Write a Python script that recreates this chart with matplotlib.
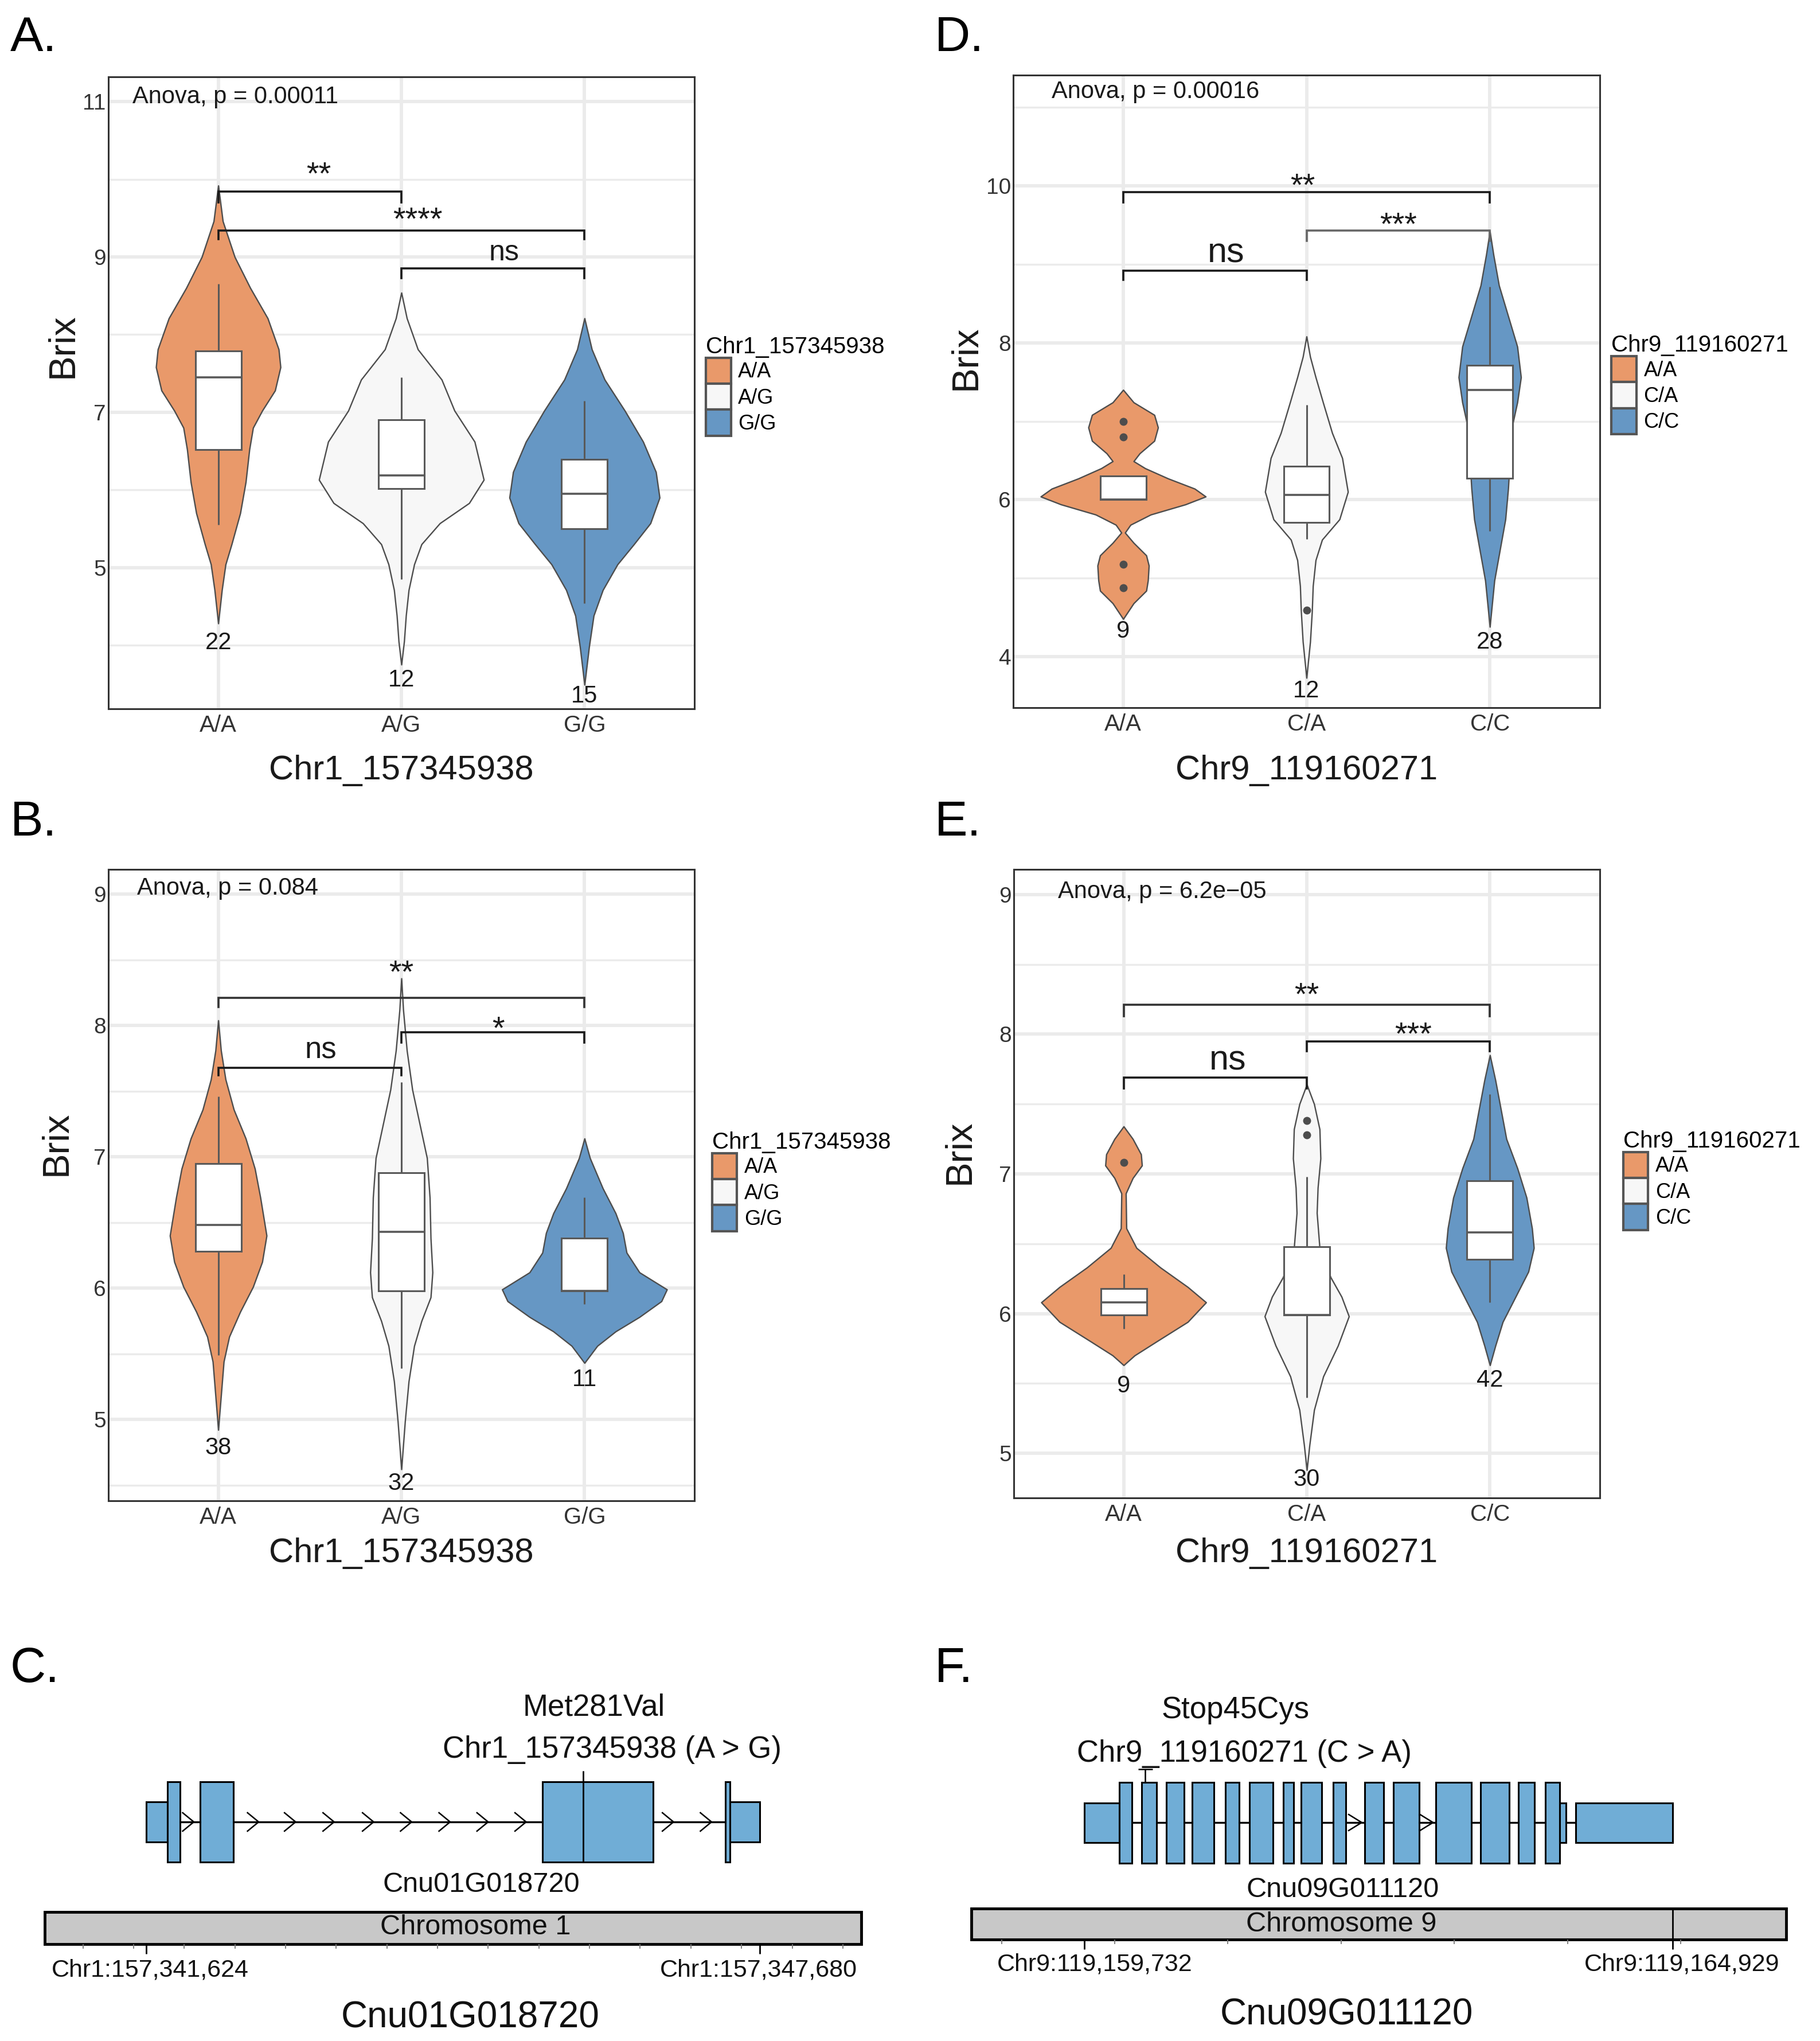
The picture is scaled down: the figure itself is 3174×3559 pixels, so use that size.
import numpy as np
import matplotlib
matplotlib.use('Agg')
import matplotlib.pyplot as plt
from matplotlib.patches import Patch

plt.rcParams['font.family'] = ['Liberation Sans', 'DejaVu Sans']

W, H = 3174, 3559
FILLS = ['#E9996A', '#F7F7F7', '#6697C4']

# ---------------- panel A : Chr1 SNP, set 1
a_cats = ['A/A', 'A/G', 'G/G']
a_n = [22, 12, 15]
a_n_y = [4.03, 3.55, 3.34]
a_lo = [5.55, 4.85, 4.54]
a_q1 = [6.52, 6.02, 5.50]
a_med = [7.45, 6.19, 5.95]
a_q3 = [7.79, 6.90, 6.39]
a_hi = [8.65, 7.45, 7.15]
a_out = [[], [], []]
a_vy = [[9.92, 9.46, 9.0, 8.6, 8.21, 7.81, 7.58, 7.28, 7.02, 6.8, 6.52, 6.1, 5.7, 5.3, 5.04, 4.71, 4.28],
        [8.54, 8.21, 7.81, 7.42, 7.02, 6.62, 6.13, 5.83, 5.57, 5.30, 5.04, 4.71, 4.38, 4.05, 3.75],
        [8.21, 7.81, 7.42, 7.02, 6.62, 6.23, 5.90, 5.57, 5.30, 5.04, 4.71, 4.38, 3.98, 3.49]]
a_vw = [[0, 0.025, 0.09, 0.175, 0.27, 0.33, 0.34, 0.31, 0.24, 0.19, 0.17, 0.15, 0.12, 0.073, 0.04, 0.02, 0],
        [0, 0.03, 0.09, 0.22, 0.29, 0.40, 0.45, 0.37, 0.21, 0.11, 0.07, 0.04, 0.025, 0.015, 0],
        [0, 0.04, 0.11, 0.22, 0.32, 0.39, 0.41, 0.36, 0.27, 0.18, 0.10, 0.05, 0.025, 0]]
# (x1, x2, bar y, tip drop, label, label y, label x shift)
a_sig = [(1, 2, 9.84, 0.14, '**', 10.17, 0.05), (1, 3, 9.34, 0.11, '****', 9.59, 0.09),
         (2, 3, 8.85, 0.12, 'ns', 9.05, 0.06)]
a_anova = 'Anova, p = 0.00011'

# ---------------- panel B : Chr1 SNP, set 2
b_cats = ['A/A', 'A/G', 'G/G']
b_n = [38, 32, 11]
b_n_y = [4.78, 4.51, 5.30]
b_lo = [5.49, 5.39, 5.88]
b_q1 = [6.28, 5.98, 5.98]
b_med = [6.48, 6.43, 5.98]
b_q3 = [6.95, 6.88, 6.38]
b_hi = [7.46, 7.57, 6.69]
b_out = [[], [], []]
b_vy = [[8.04, 7.81, 7.59, 7.36, 7.14, 6.91, 6.69, 6.40, 6.20, 6.01, 5.82, 5.63, 5.44, 5.18, 4.92],
        [8.36, 8.12, 7.81, 7.51, 7.25, 6.99, 6.69, 6.38, 6.12, 5.93, 5.75, 5.56, 5.29, 4.99, 4.62],
        [7.14, 6.99, 6.76, 6.57, 6.42, 6.27, 6.12, 5.99, 5.90, 5.78, 5.67, 5.56, 5.43]]
b_vw = [[0, 0.015, 0.04, 0.085, 0.15, 0.2, 0.23, 0.264, 0.24, 0.19, 0.12, 0.06, 0.03, 0.015, 0],
        [0, 0.01, 0.03, 0.06, 0.10, 0.14, 0.155, 0.16, 0.17, 0.16, 0.11, 0.07, 0.04, 0.02, 0],
        [0, 0.03, 0.10, 0.17, 0.21, 0.23, 0.30, 0.45, 0.42, 0.30, 0.17, 0.07, 0]]
b_sig = [(1, 2, 7.68, 0.06, 'ns', 7.81, 0.06), (1, 3, 8.21, 0.07, '**', 8.47, 0.0),
         (2, 3, 7.95, 0.08, '*', 8.04, 0.03)]
b_anova = 'Anova, p = 0.084'

# ---------------- panel D : Chr9 SNP, set 1
d_cats = ['A/A', 'C/A', 'C/C']
d_n = [9, 12, 28]
d_n_y = [4.32, 3.56, 4.18]
d_lo = [6.0, 5.50, 5.60]
d_q1 = [6.0, 5.71, 6.27]
d_med = [6.0, 6.06, 7.40]
d_q3 = [6.30, 6.43, 7.71]
d_hi = [6.30, 7.21, 8.71]
d_out = [[7.0, 6.80, 5.18, 4.88], [4.59], []]
d_vy = [[7.40, 7.24, 7.08, 6.92, 6.75, 6.59, 6.49, 6.40, 6.27, 6.14, 6.04, 5.94, 5.81, 5.68, 5.58,
         5.45, 5.29, 5.16, 4.97, 4.84, 4.68, 4.48],
        [8.08, 7.82, 7.56, 7.24, 6.85, 6.53, 6.10, 5.75, 5.49, 5.23, 4.90, 4.58, 4.19, 3.73],
        [9.42, 9.12, 8.73, 8.34, 7.95, 7.56, 7.24, 6.92, 6.53, 6.14, 5.75, 5.36, 4.97, 4.38]]
d_vw = [[0, 0.057, 0.17, 0.19, 0.17, 0.09, 0.057, 0.12, 0.245, 0.39, 0.45, 0.34, 0.15, 0.04, 0.01,
         0.057, 0.126, 0.14, 0.135, 0.126, 0.057, 0],
        [0, 0.02, 0.05, 0.09, 0.14, 0.195, 0.226, 0.18, 0.085, 0.05, 0.035, 0.03, 0.02, 0],
        [0, 0.02, 0.05, 0.10, 0.15, 0.17, 0.15, 0.12, 0.11, 0.10, 0.085, 0.055, 0.025, 0]]
d_sig = [(1, 2, 8.92, 0.12, 'ns', 9.14, 0.06), (1, 3, 9.92, 0.13, '**', 10.11, -0.02),
         (2, 3, 9.43, 0.13, '***', 9.61, 0.0)]
d_anova = 'Anova, p = 0.00016'

# ---------------- panel E : Chr9 SNP, set 2
e_cats = ['A/A', 'C/A', 'C/C']
e_n = [9, 30, 42]
e_n_y = [5.48, 4.81, 5.52]
e_lo = [5.89, 5.40, 6.08]
e_q1 = [5.99, 5.99, 6.39]
e_med = [6.08, 5.99, 6.58]
e_q3 = [6.18, 6.48, 6.95]
e_hi = [6.28, 6.98, 7.57]
e_out = [[7.08], [7.38, 7.28], []]
e_vy = [[7.34, 7.25, 7.14, 7.06, 6.97, 6.86, 6.61, 6.47, 6.33, 6.19, 6.08, 5.94, 5.80, 5.70, 5.63],
        [7.64, 7.50, 7.32, 7.11, 6.90, 6.72, 6.47, 6.26, 6.12, 5.98, 5.77, 5.55, 5.31, 5.06, 4.88],
        [7.85, 7.67, 7.46, 7.25, 7.04, 6.83, 6.61, 6.47, 6.30, 6.12, 5.94, 5.77, 5.63]]
e_vw = [[0, 0.05, 0.095, 0.10, 0.05, 0.012, 0.015, 0.07, 0.2, 0.35, 0.45, 0.35, 0.18, 0.06, 0],
        [0, 0.04, 0.07, 0.075, 0.06, 0.055, 0.07, 0.13, 0.19, 0.23, 0.17, 0.09, 0.04, 0.015, 0],
        [0, 0.03, 0.06, 0.09, 0.15, 0.20, 0.23, 0.24, 0.21, 0.14, 0.07, 0.03, 0]]
e_sig = [(1, 2, 7.69, 0.08, 'ns', 7.81, 0.07), (1, 3, 8.21, 0.08, '**', 8.34, 0.0),
         (2, 3, 7.95, 0.07, '***', 8.06, 0.08)]
e_anova = 'Anova, p = 6.2e\u221205'

# ---------------- gene models
c_gene = (157341624, 157347680)
c_snp = 157345938
c_exons = [(157341624, 157341835, 'utr'), (157341835, 157341957, 'cds'), (157342155, 157342486, 'cds'),
           (157345534, 157346625, 'cds'), (157347339, 157347386, 'cds'), (157347386, 157347680, 'utr')]
c_arrows = [157342094, 157342734, 157343099, 157343479, 157343869, 157344244, 157344624,
            157344999, 157345374, 157346829, 157347204]
c_ticks = np.arange(157341000, 157348700, 500)

f_gene = (119159732, 119164929)
f_snp = 119160271
f_exons = [(0, 307, 'utr'), (307, 419, 'cds'), (506, 639, 'cds'), (726, 879, 'cds'), (950, 1145, 'cds'),
           (1247, 1369, 'cds'), (1456, 1666, 'cds'), (1758, 1850, 'cds'), (1916, 2095, 'cds'),
           (2197, 2310, 'cds'), (2478, 2642, 'cds'), (2729, 2959, 'cds'), (3102, 3419, 'cds'),
           (3500, 3751, 'cds'), (3833, 3976, 'cds'), (4073, 4200, 'cds'), (4200, 4252, 'utr'),
           (4338, 5197, 'utr')]
f_arrows = [2450, 3080]
f_ticks = np.arange(119159000, 119166000, 1000)

fig = plt.figure(figsize=(W / 100, H / 100), dpi=100)


def fx(px):
    return px / W


def fy(py):
    return 1 - py / H


def violin_panel(rect, cats, n, n_y, lo, q1, med, q3, hi, vy, vw, outl, sig, anova, anova_xy,
                 ylim, major, minor, xtitle, xlab_y, ylab_xy, ns_size, leg_anchor, sig_cols):
    ax = fig.add_axes(rect)
    xs = np.arange(1, len(cats) + 1)
    for i, x in enumerate(xs):
        y = np.array(vy[i])
        w = np.array(vw[i])
        ax.fill_betweenx(y, x - w, x + w, facecolor=FILLS[i], edgecolor='#4D4D4D',
                         linewidth=1.7, zorder=2)
    # boxplots
    ax.vlines(xs, q3, hi, color='#595959', lw=2.2, zorder=3)
    ax.vlines(xs, lo, q1, color='#595959', lw=2.2, zorder=3)
    ax.bar(xs, np.array(q3) - np.array(q1), bottom=q1, width=0.25, color='white',
           edgecolor='#595959', linewidth=2.2, zorder=3)
    ax.hlines(med, xs - 0.125, xs + 0.125, color='#595959', lw=2.6, zorder=4)
    for i, x in enumerate(xs):
        if outl[i]:
            ax.plot([x] * len(outl[i]), outl[i], 'o', color='#4D4D4D', ms=9, zorder=5)
    # counts
    for x, c, cy in zip(xs, n, n_y):
        ax.text(x, cy, str(c), ha='center', va='center', fontsize=30, color='#1a1a1a')
    # significance brackets
    for (x1, x2, yb, tip, lab, ty, dx), col in zip(sig, sig_cols):
        ax.plot([x1, x1, x2, x2], [yb - tip, yb, yb, yb - tip], color=col, lw=2.6,
                solid_joinstyle='miter', zorder=6)
        if lab == 'ns':
            ax.text((x1 + x2) / 2 + dx, ty, lab, ha='center', va='center', fontsize=ns_size,
                    color='#1a1a1a')
        else:
            ax.annotate(lab, ((x1 + x2) / 2 + dx, ty), xytext=(0, -0.31 * 40),
                        textcoords='offset points', ha='center', va='center', fontsize=40,
                        color='#1a1a1a')
    ax.text(anova_xy[0], anova_xy[1], anova, ha='left', va='center', fontsize=30, color='#1a1a1a')

    ax.set_xlim(0.4, 3.6)
    ax.set_ylim(ylim)
    ax.set_xticks(xs)
    ax.set_xticklabels(cats)
    ax.set_yticks(major)
    ax.set_yticks(minor, minor=True)
    ax.set_axisbelow(True)
    ax.grid(which='major', color='#EBEBEB', lw=4.2)
    ax.yaxis.grid(True, which='minor', color='#EBEBEB', lw=2.4)
    ax.tick_params(which='both', length=0)
    ax.tick_params(axis='x', labelsize=29, pad=7, labelcolor='#333333')
    ax.tick_params(axis='y', labelsize=28, pad=3, labelcolor='#333333')
    for s in ax.spines.values():
        s.set_color('#333333')
        s.set_linewidth(2.2)
    ax.set_xlabel(xtitle, fontsize=43, va='center', color='#1a1a1a')
    ax.xaxis.set_label_coords(0.5, xlab_y)
    ax.set_ylabel('Brix', fontsize=47, va='center', color='#1a1a1a')
    ax.yaxis.set_label_coords(*ylab_xy)

    handles = [Patch(facecolor=FILLS[i], edgecolor='#555555', linewidth=3) for i in range(len(cats))]
    leg = ax.legend(handles, cats, title=xtitle, loc='upper left', bbox_to_anchor=leg_anchor,
                    frameon=False, fontsize=26, title_fontsize=29, handlelength=1.2,
                    handleheight=1.55, labelspacing=0.0, handletextpad=0.35, borderpad=0,
                    borderaxespad=0)
    leg._legend_box.align = 'left'
    return ax


dark = '#1a1a1a'
violin_panel([fx(189), fy(1236), fx(1022), 1102 / H], a_cats, a_n, a_n_y, a_lo, a_q1, a_med, a_q3,
             a_hi, a_vy, a_vw, a_out, a_sig, a_anova, (0.53, 11.06), (3.18, 11.32), [5, 7, 9, 11],
             [4, 6, 8, 10], 'Chr1_157345938', -0.098, (-0.078, 0.575), 36, (1.02, 0.59),
             [dark, dark, dark])
violin_panel([fx(1767), fy(1234), fx(1023), 1103 / H], d_cats, d_n, d_n_y, d_lo, d_q1, d_med, d_q3,
             d_hi, d_vy, d_vw, d_out, d_sig, d_anova, (0.61, 11.2), (3.35, 11.41), [4, 6, 8, 10],
             [5, 7, 9, 11], 'Chr9_119160271', -0.0997, (-0.081, 0.553), 44, (1.02, 0.59),
             [dark, dark, '#666666'])
violin_panel([fx(189), fy(2617), fx(1022), 1101 / H], b_cats, b_n, b_n_y, b_lo, b_q1, b_med, b_q3,
             b_hi, b_vy, b_vw, b_out, b_sig, b_anova, (0.558, 9.045), (4.38, 9.19), [5, 6, 7, 8, 9],
             [4.5, 5.5, 6.5, 7.5, 8.5], 'Chr1_157345938', -0.083, (-0.088, 0.566), 38, (1.03, 0.585),
             [dark, '#333333', dark])
violin_panel([fx(1768), fy(2612), fx(1022), 1096 / H], e_cats, e_n, e_n_y, e_lo, e_q1, e_med, e_q3,
             e_hi, e_vy, e_vw, e_out, e_sig, e_anova, (0.64, 9.02), (4.68, 9.18), [5, 6, 7, 8, 9],
             [5.5, 6.5, 7.5, 8.5], 'Chr9_119160271', -0.0876, (-0.092, 0.55), 44, (1.04, 0.585),
             [dark, '#333333', dark])

# panel letters
for lab, px, py in [('A.', 18, 89), ('D.', 1630, 89), ('B.', 18, 1457), ('E.', 1630, 1457),
                    ('C.', 18, 2933), ('F.', 1630, 2933)]:
    fig.text(fx(px), fy(py), lab, fontsize=62, va='baseline', ha='left')


def gene_panel(px0, xlim, gene, exons, arrows, ticks, y_mid, cds_h, utr_h, chev_w, chev_h,
               chrom_y, chrom_h, through_end=False):
    ax = fig.add_axes([fx(px0), 0, 0.5, 709 / H])
    ax.set_xlim(xlim)
    ax.set_ylim(H, 2850)
    ax.axis('off')
    ax.hlines(y_mid, gene[0], gene[1], color='black', lw=2.4, zorder=1)
    for t in arrows:
        ax.plot([t - chev_w, t, t - chev_w], [y_mid - chev_h, y_mid, y_mid + chev_h],
                color='black', lw=1.8, zorder=1)
    for s, e, kind in exons:
        h = cds_h if kind == 'cds' else utr_h
        ax.bar(s, h, width=e - s, bottom=y_mid - h / 2, align='edge', facecolor='#70ADD6',
               edgecolor='black', linewidth=2.2, zorder=2)
    cl, ch = gene[0] - 1000, gene[1] + 1000
    ax.bar(cl, chrom_h, width=ch - cl, bottom=chrom_y, align='edge', facecolor='#C8C8C8',
           edgecolor='black', linewidth=3.5, zorder=2)
    bot = chrom_y + chrom_h
    ax.vlines(ticks[(ticks > cl) & (ticks < ch)], bot, bot + 8, color='#777777', lw=1.3)
    ax.vlines(gene, bot, bot + 17, color='black', lw=2)
    if through_end:
        ax.vlines(gene[1], chrom_y, bot, color='black', lw=2, zorder=3)
    return ax


# panel C
gc = gene_panel(0, (157340181, 157349163), c_gene, c_exons, c_arrows, c_ticks, 3177, 140, 70,
                110, 16, 3334, 56)
gc.vlines(c_snp, 3088, 3246, color='black', lw=2, zorder=3)
gtxt = [('Met281Val', 1036, 2977, 38), ('Chr1_157345938 (A > G)', 1067, 3051, 38),
        ('Cnu01G018720', 839, 3286, 35), ('Chromosome 1', 829, 3360, 35),
        ('Chr1:{:,}'.format(c_gene[0]), 262, 3435, 31), ('Chr1:{:,}'.format(c_gene[1]), 1323, 3435, 31),
        ('Cnu01G018720', 820, 3518, 46)]

# panel F
f_ex = [(f_gene[0] + s, f_gene[0] + e, k) for s, e, k in f_exons]
f_ar = [f_gene[0] + a for a in f_arrows]
gf = gene_panel(1587, (119158192, 119166230), f_gene, f_ex, f_ar, f_ticks, 3178, 141, 69,
                115, 14, 3328, 54, through_end=True)
gf.vlines(f_snp, 3085, 3108, color='black', lw=1.8, zorder=3)
gf.hlines(3085, f_snp - 65, f_snp + 65, color='black', lw=1.8, zorder=3)
gtxt += [('Stop45Cys', 2155, 2982, 38), ('Chr9_119160271 (C > A)', 2170, 3058, 38),
         ('Cnu09G011120', 2342, 3295, 35), ('Chromosome 9', 2339, 3355, 35),
         ('Chr9:{:,}'.format(f_gene[0]), 1909, 3425, 31), ('Chr9:{:,}'.format(f_gene[1]), 2933, 3425, 31),
         ('Cnu09G011120', 2348, 3513, 46)]

for s, px, py, fs in gtxt:
    fig.text(fx(px), fy(py), s, ha='center', va='center', fontsize=fs, color='#111111', zorder=10)

fig.savefig('out.png', dpi=100)
